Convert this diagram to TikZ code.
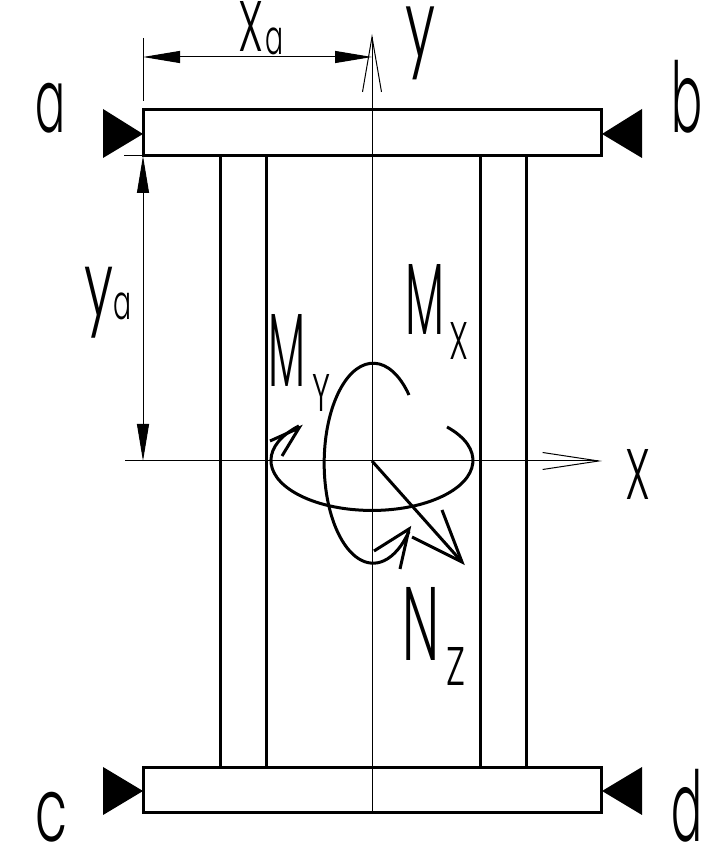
\documentclass[tikz,border=0pt]{standalone}
\usepackage{fontspec}
\usepackage{graphicx}
\newfontfamily\cadfont[UprightFont=* Light]{Poppins}
\usetikzlibrary{arrows.meta}
\newcommand{\cad}[3]{\resizebox*{#1pt}{#2pt}{\cadfont #3}}
\begin{document}
\begin{tikzpicture}[x=1pt, y=1pt, wall/.style = {draw, line width=3pt, line join=miter}, axis/.style = {draw, line width=1pt}, dim/.style = {axis, {Triangle[length=37pt, width=12pt]}-{Triangle[length=37pt, width=12pt]}}, support/.style = {fill=black}, lbl/.style = {inner sep=0pt, anchor=south west}]
	\useasboundingbox (0,0) rectangle (710,845);
	\coordinate (O) at (372,384);
	\coordinate (yBottom) at (372,32);
	\coordinate (yTop) at (372,811);
	\coordinate (xLeft) at (125,384);
	\coordinate (xRight) at (602,384);
	% flanges and webs
	\draw[wall] (143,735) rectangle (601,689);
	\draw[wall] (143,77) rectangle (601,32);
	\draw[wall] (220,689) rectangle (266,77);
	\draw[wall] (480,689) rectangle (526,77);
	% axes
	\draw[axis, -{Straight Barb[length=55pt, width=19pt]}] (yBottom) -- (yTop);
	\draw[axis, -{Straight Barb[length=56pt, width=17pt]}] (xLeft) -- (xRight);
	% dimensions
	\coordinate (xaLeft) at (143,788);
	\coordinate (xaRight) at (372,788);
	\coordinate (yaTop) at (143,689);
	\coordinate (yaBottom) at (143,384);
	\draw[axis] (143,807) -- (143,744);
	\draw[axis] (124,689) -- (yaTop);
	\draw[dim] (xaLeft) -- (xaRight);
	\draw[dim] (yaTop) -- (yaBottom);
	% supports
	\fill[support] (103,736) -- (103,687) -- (143,711) -- cycle;
	\fill[support] (642,736) -- (642,687) -- (602,711) -- cycle;
	\fill[support] (103,78) -- (103,30) -- (143,54) -- cycle;
	\fill[support] (642,78) -- (642,30) -- (602,54) -- cycle;
	% moments and force
	\coordinate (MxTip) at (409,316);
	\coordinate (MyTip) at (299,417);
	\coordinate (NzTip) at (462,283);
	\draw[wall] (409,450) arc[start angle=43, end angle=317, x radius=49pt, y radius=100pt];
	\draw[wall] (374,294) -- (MxTip) -- (400,276);
	\draw[wall] (447,418) arc[start angle=42, end angle=-223.7, x radius=101pt, y radius=50pt];
	\draw[wall] (270,404) -- (MyTip) -- (282,389);
	\draw[wall] (O) -- (NzTip);
	\draw[wall] (442,335) -- (NzTip) -- (412,308);
	% labels
	\node[lbl] (labXa) at (238,790) {\cad{25}{50}{X}\hspace{2pt}\raisebox{-3pt}{\cad{18}{27}{a}}};
	\node[lbl] (labY) at (405,765) {\cad{30}{73}{y}};
	\node[lbl] (labA) at (35,712) {\cad{30}{50}{a}};
	\node[lbl] (labB) at (671,712) {\cad{31}{73}{b}};
	\node[lbl] (labC) at (35,3) {\cad{32}{50}{c}};
	\node[lbl] (labD) at (671,3) {\cad{31}{73}{d}};
	\node[lbl] (labYa) at (84,507) {\cad{29}{71}{y}\raisebox{-4pt}{\cad{18}{27}{a}}};
	\node[lbl] (labMx) at (405,485) {\cad{39}{70}{M}\hspace{5pt}\raisebox{-25pt}{\cad{19}{37}{X}}};
	\node[lbl] (labMy) at (268,433) {\cad{37}{72}{M}\hspace{7pt}\raisebox{-25pt}{\cad{18}{37}{Y}}};
	\node[lbl] (labNz) at (402,159) {\cad{37}{73}{N}\hspace{7pt}\raisebox{-25pt}{\cad{19}{38}{Z}}};
	\node[lbl] (labX) at (625,345) {\cad{25}{50}{X}};
\end{tikzpicture}
\end{document}
